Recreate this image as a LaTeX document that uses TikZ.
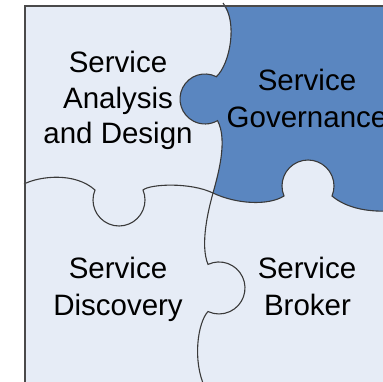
\documentclass[tikz,border=0pt]{standalone}
\usepackage{fontspec}
\setmainfont{Liberation Sans}
\definecolor{lightpiece}{HTML}{E6ECF6}
\definecolor{bluepiece}{HTML}{5A86C0}
\definecolor{edgec}{HTML}{3A3A3A}
\definecolor{framec}{HTML}{4A4A4A}
\begin{document}
\begin{tikzpicture}[x=1pt,y=-1pt,
  seam/.style={draw=edgec,line width=1.1pt},
  framebox/.style={draw=framec,line width=1.8pt},
  lbl/.style={inner sep=0pt,anchor=base,font=\fontsize{29.5}{34}\selectfont,text=black}]
\useasboundingbox (0,0) rectangle (383,381);
\begin{scope}
\clip (0,0) rectangle (383,381);
\fill[lightpiece] (24,5) rectangle (400,400);
% blue piece (Service Governance)
\fill[bluepiece] (223,5) -- (400,5) -- (400,211) -- (385,211)
  .. controls (365,212) and (345,207) .. (332,196)
  arc[start angle=22.6,end angle=-202.6,radius=26]
  .. controls (268,206) and (236,204) .. (213,193)
  .. controls (218,175) and (228,140) .. (217.5,120.65)
  arc[start angle=60,end angle=297,radius=25]
  .. controls (230,64) and (238,22) .. (223,5) -- cycle;
% horizontal seam
\draw[seam] (24,184) .. controls (40,176) and (75,172) .. (95,190)
  arc[start angle=202.6,end angle=-22.6,radius=26]
  .. controls (150,184) and (190,182) .. (213,193)
  .. controls (236,204) and (268,206) .. (284,196)
  arc[start angle=157.4,end angle=382.6,radius=26]
  .. controls (345,207) and (365,212) .. (388,211);
% vertical seam
\draw[seam] (223,3) .. controls (238,22) and (230,64) .. (216.35,76.7)
  arc[start angle=297,end angle=60,radius=25]
  .. controls (228,140) and (218,175) .. (213,193)
  .. controls (208,211) and (200,245) .. (208,264.4)
  arc[start angle=-115,end angle=115,radius=26]
  .. controls (198,322) and (192,360) .. (205,388);
% frame
\draw[framebox] (24.8,400) -- (24.8,5.6) -- (400,5.6);
\end{scope}
% labels
\node[lbl] (sad1) at (118,72) {Service};
\node[lbl] (sad2) at (118,108) {Analysis};
\node[lbl] (sad3) at (118,143) {and Design};
\node[lbl] (sg1) at (307,90) {Service};
\node[lbl] (sg2) at (307,127) {Governance};
\node[lbl] (sd1) at (118,278) {Service};
\node[lbl] (sd2) at (118,315) {Discovery};
\node[lbl] (sb1) at (307,278) {Service};
\node[lbl] (sb2) at (307.5,315) {Broker};
\end{tikzpicture}
\end{document}
